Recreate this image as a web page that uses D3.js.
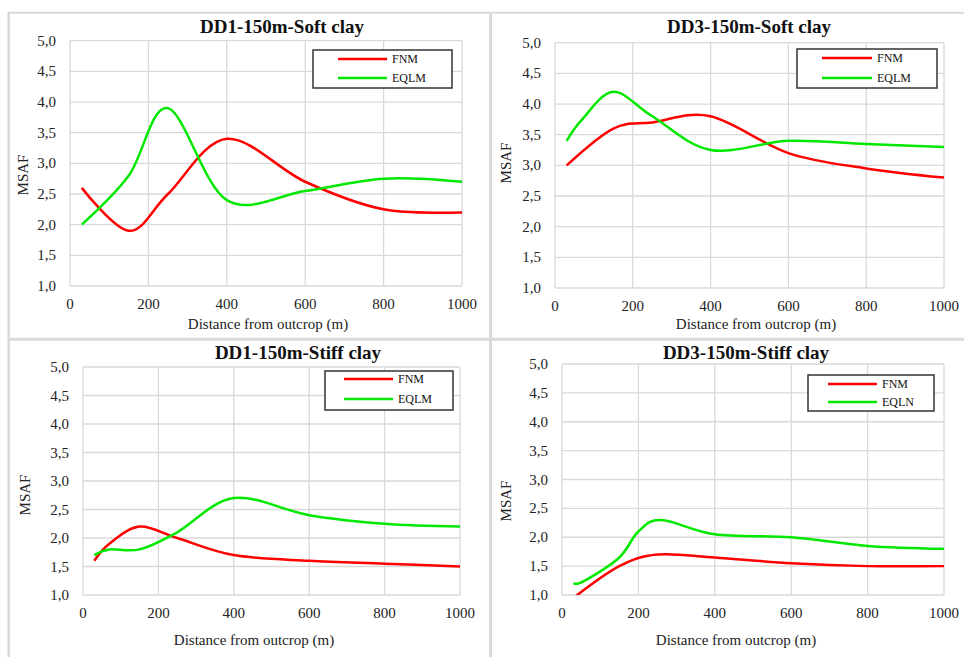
<!DOCTYPE html>
<html><head><meta charset="utf-8">
<script src="https://cdn.jsdelivr.net/npm/d3@7"></script>
<style>body{margin:0;background:#fff}svg{display:block}</style>
</head><body>
<script>
// ---- data ----
const xTicks = [0, 200, 400, 600, 800, 1000];
const yTicks = [1.0, 1.5, 2.0, 2.5, 3.0, 3.5, 4.0, 4.5, 5.0];
const titles = ["DD1-150m-Soft clay", "DD3-150m-Soft clay", "DD1-150m-Stiff clay", "DD3-150m-Stiff clay"];
const seriesNames = [["FNM", "EQLM"], ["FNM", "EQLM"], ["FNM", "EQLM"], ["FNM", "EQLN"]];
const xTitle = "Distance from outcrop (m)";
const yTitle = "MSAF";

const dd1SoftFnmX  = [30, 150, 250, 400, 600, 800, 1000];
const dd1SoftFnm   = [2.6, 1.9, 2.5, 3.4, 2.7, 2.25, 2.2];
const dd1SoftEqlmX = [30, 150, 250, 400, 600, 800, 1000];
const dd1SoftEqlm  = [2.0, 2.8, 3.9, 2.4, 2.55, 2.75, 2.7];

const dd3SoftFnmX  = [30, 150, 250, 400, 600, 800, 1000];
const dd3SoftFnm   = [3.0, 3.6, 3.7, 3.8, 3.2, 2.95, 2.8];
const dd3SoftEqlmX = [30, 70, 150, 250, 400, 600, 800, 1000];
const dd3SoftEqlm  = [3.4, 3.75, 4.2, 3.8, 3.25, 3.4, 3.35, 3.3];

const dd1StiffFnmX  = [30, 70, 150, 250, 400, 600, 800, 1000];
const dd1StiffFnm   = [1.6, 1.9, 2.2, 2.0, 1.7, 1.6, 1.55, 1.5];
const dd1StiffEqlmX = [30, 70, 150, 250, 400, 600, 800, 1000];
const dd1StiffEqlm  = [1.7, 1.8, 1.8, 2.1, 2.7, 2.4, 2.25, 2.2];

const dd3StiffFnmX  = [30, 150, 250, 400, 600, 800, 1000];
const dd3StiffFnm   = [0.95, 1.5, 1.7, 1.65, 1.55, 1.5, 1.5];
const dd3StiffEqlnX = [30, 60, 150, 200, 260, 400, 600, 800, 1000];
const dd3StiffEqln  = [1.2, 1.25, 1.65, 2.1, 2.3, 2.05, 2.0, 1.85, 1.8];

const panelData = [
  [[dd1SoftFnmX, dd1SoftFnm], [dd1SoftEqlmX, dd1SoftEqlm]],
  [[dd3SoftFnmX, dd3SoftFnm], [dd3SoftEqlmX, dd3SoftEqlm]],
  [[dd1StiffFnmX, dd1StiffFnm], [dd1StiffEqlmX, dd1StiffEqlm]],
  [[dd3StiffFnmX, dd3StiffFnm], [dd3StiffEqlnX, dd3StiffEqln]]
];
const colors = ["#ff0000", "#00e800"];

// ---- layout ----
const layout = [
  {l:70, r:462, t:40.7, b:286, tx:282, ty:33, xtx:268, xty:329, ytx:23, yty:175,
   lg:{x0:313, x1:452, y0:50, y1:88, l0:338, l1:387, tx:392, y:[59, 78]}},
  {l:555, r:944, t:42.7, b:288, tx:749, ty:33, xtx:756, xty:329, ytx:506, yty:163,
   lg:{x0:797, x1:937, y0:49, y1:88, l0:822, l1:872, tx:877, y:[58, 78]}},
  {l:83, r:460, t:367, b:595, tx:298, ty:359, xtx:254, xty:645, ytx:25, yty:495,
   lg:{x0:325, x1:453, y0:371, y1:410, l0:344, l1:393, tx:398, y:[379, 399]}},
  {l:562, r:944, t:364, b:595, tx:746, ty:359, xtx:736, xty:645, ytx:506, yty:501,
   lg:{x0:808, x1:934, y0:375, y1:411, l0:828, l1:877, tx:882, y:[384, 402]}}
];

const W = 964, H = 657;
const svg = d3.select("body").append("svg").attr("width", W).attr("height", H)
  .style("font-family", "'Liberation Serif','Times New Roman',serif");

// panel frame
const frame = svg.append("g").attr("stroke", "#d9d9d9").attr("fill", "none");
frame.append("line").attr("x1", 8).attr("x2", W).attr("y1", 12.8).attr("y2", 12.8).attr("stroke-width", 2);
frame.append("line").attr("x1", 8.7).attr("x2", 8.7).attr("y1", 12).attr("y2", H).attr("stroke-width", 2.5);
frame.append("line").attr("x1", 490.5).attr("x2", 490.5).attr("y1", 12).attr("y2", H).attr("stroke-width", 3);
frame.append("line").attr("x1", 8).attr("x2", W).attr("y1", 339.3).attr("y2", 339.3).attr("stroke-width", 3);

const fmt = v => d3.format(".1f")(v).replace(".", ",");

layout.forEach((L, i) => {
  const x = d3.scaleLinear().domain([0, 1000]).range([L.l, L.r]);
  const y = d3.scaleLinear().domain([1, 5]).range([L.b, L.t]);
  const g = svg.append("g");

  // grid
  g.append("g").selectAll("line").data(yTicks).join("line")
    .attr("x1", L.l).attr("x2", L.r).attr("y1", d => y(d)).attr("y2", d => y(d))
    .attr("stroke", "#d9d9d9").attr("stroke-width", 1.3);
  g.append("g").selectAll("line").data(xTicks).join("line")
    .attr("y1", L.t).attr("y2", L.b).attr("x1", d => x(d)).attr("x2", d => x(d))
    .attr("stroke", "#d9d9d9").attr("stroke-width", 1.3);

  // tick labels
  g.append("g").selectAll("text").data(yTicks).join("text")
    .attr("x", L.l - 14).attr("y", d => y(d) + 5).attr("text-anchor", "end")
    .attr("font-size", 15).attr("fill", "#222").text(fmt);
  g.append("g").selectAll("text").data(xTicks).join("text")
    .attr("x", d => x(d)).attr("y", L.b + 23).attr("text-anchor", "middle")
    .attr("font-size", 15).attr("fill", "#222").text(d => d);

  // titles
  g.append("text").attr("x", L.tx).attr("y", L.ty).attr("text-anchor", "middle")
    .attr("font-size", 19).attr("font-weight", "bold").attr("fill", "#111").text(titles[i]);
  g.append("text").attr("x", L.xtx).attr("y", L.xty).attr("text-anchor", "middle")
    .attr("font-size", 15).attr("fill", "#222").text(xTitle);
  g.append("text").attr("transform", `translate(${L.ytx},${L.yty}) rotate(-90)`)
    .attr("dy", "0.35em").attr("text-anchor", "middle")
    .attr("font-size", 15).attr("fill", "#222").text(yTitle);

  // clip
  const cid = "clip" + i;
  svg.append("clipPath").attr("id", cid).append("rect")
    .attr("x", L.l).attr("y", L.t - 2).attr("width", L.r - L.l + 2).attr("height", L.b - L.t + 2);

  const line = d3.line().x(d => x(d[0])).y(d => y(d[1])).curve(d3.curveCardinal.tension(0));
  panelData[i].forEach((s, k) => {
    const pts = s[0].map((xv, j) => [xv, s[1][j]]);
    g.append("path").datum(pts).attr("d", line).attr("fill", "none")
      .attr("stroke", colors[k]).attr("stroke-width", 2.5)
      .attr("clip-path", `url(#${cid})`);
  });

  // legend
  const lg = L.lg;
  g.append("rect").attr("x", lg.x0).attr("y", lg.y0).attr("width", lg.x1 - lg.x0).attr("height", lg.y1 - lg.y0)
    .attr("fill", "#fff").attr("stroke", "#333").attr("stroke-width", 1.5);
  seriesNames[i].forEach((nm, k) => {
    g.append("line").attr("x1", lg.l0).attr("x2", lg.l1).attr("y1", lg.y[k]).attr("y2", lg.y[k])
      .attr("stroke", colors[k]).attr("stroke-width", 2.5);
    g.append("text").attr("x", lg.tx).attr("y", lg.y[k] + 4).attr("font-size", 12)
      .attr("fill", "#111").text(nm);
  });
});
</script>
</body></html>
